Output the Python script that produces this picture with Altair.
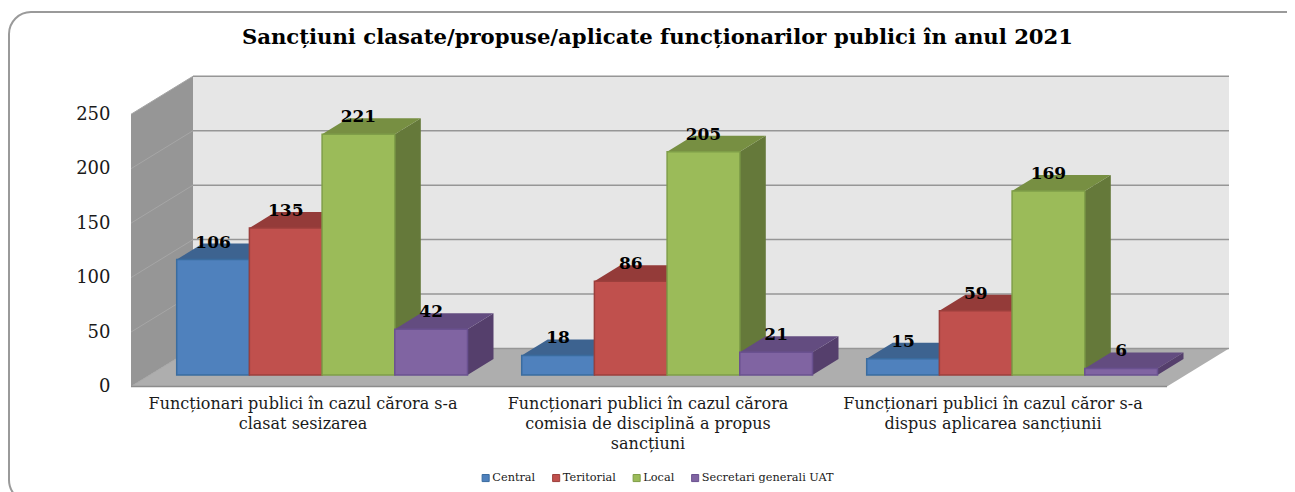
import altair as alt
import pandas as pd

categories = [
    "Funcționari publici în cazul cărora s-a\nclasat sesizarea",
    "Funcționari publici în cazul cărora\ncomisia de disciplină a propus\nsancțiuni",
    "Funcționari publici în cazul căror s-a\ndispus aplicarea sancțiunii",
]
series = ["Central", "Teritorial", "Local", "Secretari generali UAT"]
central = [106, 18, 15]
teritorial = [135, 86, 59]
local = [221, 205, 169]
secretari = [42, 21, 6]
ticks = [0, 50, 100, 150, 200, 250]

front_colors = ["#4f81bd", "#c0504d", "#9bbb59", "#8064a2"]
edge_colors = ["#3a6c9f", "#9c3f3c", "#7f9e48", "#6a5190"]
top_colors = ["#3d6390", "#943b39", "#778f42", "#634c80"]
side_colors = ["#35567d", "#7f3331", "#65793a", "#553f6c"]

W, H = 1279, 484
PXU = 1.089            # pixels per value unit
Y0 = 386.5             # page y of value 0 on the front edge
SERIF = "DejaVu Serif"


def vy(page_y):
    return (Y0 - page_y) / PXU


WALL_DX, WALL_DU = 62, 38 / PXU
BAR_X0, CAT_STEP, BAR_W = 176.7, 345, 72.7
BAR_BASE = 11.5 / PXU
DEPTH_DX, DEPTH_DU = 26, 16 / PXU
LEFT, RIGHT = 131, 1167

x_scale = alt.Scale(domain=[8, 8 + W], range=[0, W], nice=False, zero=False)
y_scale = alt.Scale(domain=[vy(8 + H), vy(8)], range=[H, 0], nice=False, zero=False)
y_axis = alt.Axis(
    values=ticks, domain=False, ticks=False, grid=False, title=None, offset=-102, zindex=1,
    labelFont=SERIF, labelFontSize=18, labelColor="#1a1a1a", labelPadding=0,
)
X = lambda f: alt.X(f, type="quantitative", scale=x_scale, axis=None)
Y = lambda f: alt.Y(f, type="quantitative", scale=y_scale, axis=y_axis)

bars = []
for c, vals in enumerate(zip(central, teritorial, local, secretari)):
    for s, v in enumerate(vals):
        x0 = BAR_X0 + c * CAT_STEP + s * BAR_W
        bars.append(dict(id=f"{c}-{s}", series=series[s], value=v, x0=x0, x1=x0 + BAR_W,
                         cx=x0 + BAR_W / 2, base=BAR_BASE, top=BAR_BASE + v))
bars = pd.DataFrame(bars)

side = []
topf = []
for r in bars.itertuples():
    for t in (0, 1):
        side.append(dict(id=r.id, series=r.series, x=r.x1 + t * DEPTH_DX,
                         y=r.top + t * DEPTH_DU, y2=r.base + t * DEPTH_DU))
        topf.append(dict(id=r.id, series=r.series, x=r.x0 + t * DEPTH_DX,
                         x2=r.x1 + t * DEPTH_DX, y=r.top + t * DEPTH_DU))
side = pd.DataFrame(side)
topf = pd.DataFrame(topf)

tick_df = pd.DataFrame({"v": ticks})

# frame
frame = alt.Chart(pd.DataFrame([dict(x=9, x2=1320, y=vy(12), y2=vy(502))])).mark_rect(
    fill="#ffffff", stroke="#9a9a9a", strokeWidth=2, cornerRadius=22
).encode(x=X("x"), x2="x2", y=Y("y"), y2="y2")

# walls
left_wall = alt.Chart(pd.DataFrame([
    dict(x=LEFT, y=250, y2=0),
    dict(x=LEFT + WALL_DX, y=250 + WALL_DU, y2=WALL_DU),
])).mark_area(color="#969696").encode(x=X("x"), y=Y("y"), y2="y2")

back_wall = alt.Chart(pd.DataFrame([
    dict(x=LEFT + WALL_DX, x2=RIGHT + WALL_DX, y=250 + WALL_DU, y2=WALL_DU)
])).mark_rect(color="#e6e6e6").encode(x=X("x"), x2="x2", y=Y("y"), y2="y2")

floor = alt.Chart(pd.DataFrame([
    dict(x=LEFT, x2=RIGHT, y=0),
    dict(x=LEFT + WALL_DX, x2=RIGHT + WALL_DX, y=WALL_DU),
])).mark_area(color="#aeaeae", orient="horizontal").encode(x=X("x"), x2="x2", y=Y("y"))

grid_back = alt.Chart(tick_df.assign(x=LEFT + WALL_DX, x2=RIGHT + WALL_DX, y=tick_df.v + WALL_DU)).mark_rule(
    color="#969696", strokeWidth=1.5
).encode(x=X("x"), x2="x2", y=Y("y"))

grid_left_rows = []
for v in ticks:
    grid_left_rows += [dict(v=v, x=LEFT, y=v), dict(v=v, x=LEFT + WALL_DX, y=v + WALL_DU)]
grid_left = alt.Chart(pd.DataFrame(grid_left_rows)).mark_line(color="#a6a6a6", strokeWidth=1).encode(
    x=X("x"), y=Y("y"), detail="v:N"
)
front_edge = alt.Chart(pd.DataFrame([dict(x=LEFT, x2=RIGHT, y=0)])).mark_rule(
    color="#8c8c8c", strokeWidth=1.5
).encode(x=X("x"), x2="x2", y=Y("y"))

side_layer = alt.Chart(side).mark_area(strokeWidth=0).encode(
    x=X("x"), y=Y("y"), y2="y2", detail="id:N",
    fill=alt.Fill("series:N", scale=alt.Scale(domain=series, range=side_colors), legend=None),
)
top_layer = alt.Chart(topf).mark_area(orient="horizontal", strokeWidth=0).encode(
    x=X("x"), x2="x2", y=Y("y"), detail="id:N",
    fill=alt.Fill("series:N", scale=alt.Scale(domain=series, range=top_colors), legend=None),
)
legend = alt.Legend(
    title=None, orient="none", legendX=472, legendY=464, direction="horizontal", columns=4,
    symbolType="square", symbolSize=50, symbolStrokeWidth=1,
    labelFont=SERIF, labelFontSize=11.3, labelColor="#1a1a1a",
    columnPadding=14.5, labelOffset=1, symbolOpacity=1,
)
front_layer = alt.Chart(bars).mark_rect(strokeWidth=1.5).encode(
    x=X("x0"), x2="x1", y=Y("top"), y2="base",
    fill=alt.Fill("series:N", scale=alt.Scale(domain=series, range=front_colors), sort=series, legend=legend),
    stroke=alt.Stroke("series:N", scale=alt.Scale(domain=series, range=edge_colors), sort=series, legend=legend),
)
value_labels = alt.Chart(bars).mark_text(
    font=SERIF, fontSize=17, fontWeight="bold", color="#000000", dy=-17, baseline="middle"
).encode(x=X("cx"), y=Y("top"), text="value:Q")

cat_df = pd.DataFrame({
    "label": categories,
    "x": [303 + i * CAT_STEP for i in range(3)],
    "y": vy(396),
})
cat_labels = alt.Chart(cat_df).mark_text(
    font=SERIF, fontSize=16, color="#1a1a1a", baseline="top", align="center",
    lineBreak="\n", lineHeight=20,
).encode(x=X("x"), y=Y("y"), text="label:N")

chart = alt.layer(
    frame, left_wall, back_wall, floor, grid_back, grid_left, front_edge,
    side_layer, top_layer, front_layer, value_labels, cat_labels,
).resolve_scale(fill="independent", stroke="independent").properties(
    width=W, height=H, padding=0, autosize="none",
    title=alt.TitleParams(
        "Sancțiuni clasate/propuse/aplicate  funcționarilor publici în anul 2021",
        font=SERIF, fontSize=21.2, fontWeight="bold", color="#000000",
        anchor="middle", dx=10, dy=40, offset=0,
    ),
).configure_view(stroke=None)

chart.save("out.html", embed_options={"renderer": "svg", "actions": False})
